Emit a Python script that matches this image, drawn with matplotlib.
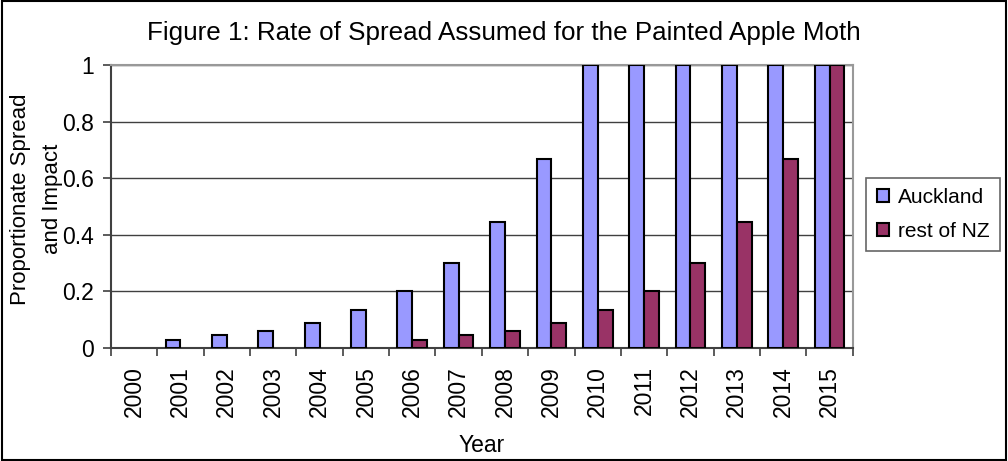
import numpy as np
import matplotlib.pyplot as plt
from matplotlib.patches import Rectangle, Patch

plt.rcParams['font.family'] = ['Liberation Sans', 'DejaVu Sans']

years = ['2000', '2001', '2002', '2003', '2004', '2005', '2006', '2007',
         '2008', '2009', '2010', '2011', '2012', '2013', '2014', '2015']
auckland = [0, 0.03, 0.045, 0.06, 0.09, 0.135, 0.2, 0.3,
            0.445, 0.667, 1, 1, 1, 1, 1, 1]
rest_nz = [0, 0, 0, 0, 0, 0, 0.03, 0.045,
           0.06, 0.09, 0.135, 0.2, 0.3, 0.445, 0.667, 1]

fig = plt.figure(figsize=(10.08, 4.61), dpi=100)
ax = fig.add_axes([0.110, 0.245, 0.736, 0.614])

x = np.arange(len(years))
w = 0.32
# zero-height bars get no outline, as in the original
edge_a = ['black' if v > 0 else 'none' for v in auckland]
edge_r = ['black' if v > 0 else 'none' for v in rest_nz]
ax.bar(x - w / 2, auckland, w, color='#9999FF', edgecolor=edge_a, linewidth=1.5, zorder=3)
ax.bar(x + w / 2, rest_nz, w, color='#993366', edgecolor=edge_r, linewidth=1.5, zorder=3)

ax.set_xlim(-0.5, len(years) - 0.5)
ax.set_ylim(0, 1)
ax.set_yticks([0, 0.2, 0.4, 0.6, 0.8, 1])
ax.set_yticklabels(['0', '0.2', '0.4', '0.6', '0.8', '1'], fontsize=16.5)
ax.set_xticks(x)
ax.set_xticklabels(years, rotation=90, fontsize=16.5)
ax.tick_params(axis='x', length=0, pad=13)
ax.set_xticks(np.arange(len(years) + 1) - 0.5, minor=True)
ax.tick_params(axis='x', which='minor', length=6, width=1.2, color='#404040', direction='out')
ax.tick_params(axis='y', length=6, width=1.2, color='#404040', direction='out', pad=6)

ax.grid(axis='y', color='#404040', linewidth=1, zorder=0)
for s in ['top', 'right']:
    ax.spines[s].set_color('#999999')
    ax.spines[s].set_linewidth(1.5)
ax.spines['left'].set_color('#404040')
ax.spines['bottom'].set_color('#404040')
ax.spines['left'].set_linewidth(1.5)
ax.spines['bottom'].set_linewidth(1.5)

ax.set_xlabel('Year', fontsize=16.5, labelpad=12)
fig.text(0.0365, 0.568, 'Proportionate Spread\nand Impact', rotation=90, ha='center', va='center',
         multialignment='center', fontsize=16, linespacing=1.7)
fig.text(0.5, 0.928, 'Figure 1: Rate of Spread Assumed for the Painted Apple Moth',
         ha='center', va='center', fontsize=18.7)

handles = [Patch(facecolor='#9999FF', edgecolor='black', linewidth=1.5, label='Auckland'),
           Patch(facecolor='#993366', edgecolor='black', linewidth=1.5, label='rest of NZ')]
leg = ax.legend(handles=handles, loc='center left', bbox_to_anchor=(1.01, 0.472), fontsize=15,
                frameon=True, fancybox=False, handlelength=0.6, handleheight=0.6,
                handletextpad=0.4, borderpad=0.5, borderaxespad=0.3, labelspacing=0.7)
leg.get_frame().set_edgecolor('#404040')
leg.get_frame().set_linewidth(1.2)

fig.patches.append(Rectangle((0.002, 0.002), 0.996, 0.996, transform=fig.transFigure,
                             fill=False, edgecolor='black', linewidth=1.5))

fig.savefig('out.png', dpi=100)
